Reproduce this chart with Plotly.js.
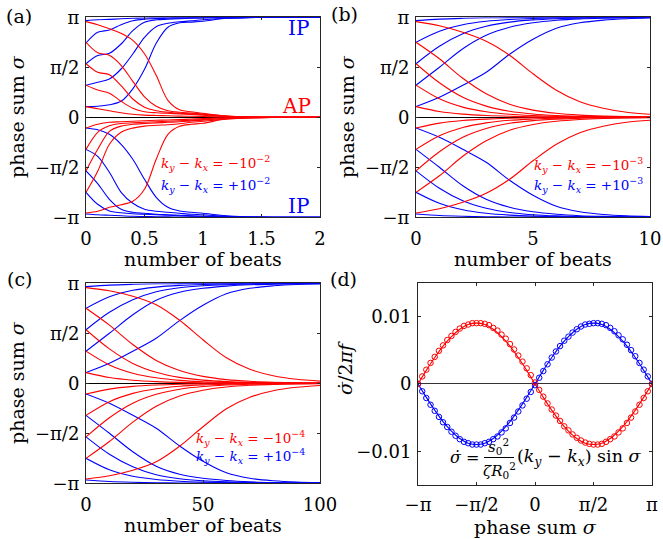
<!DOCTYPE html>
<html><head><meta charset="utf-8">
<script src="https://cdn.plot.ly/plotly-3.0.1.min.js"></script>
<style>body{margin:0;padding:0;background:#fff}#chart{width:663px;height:539px}</style>
</head><body><div id="chart"></div>
<script>
// ---------- panel (a): ky-kx = ±1e-2, phase sum in units of pi ----------
const beatsA = [0, 0.1, 0.2, 0.3, 0.4, 0.5, 0.6, 0.7, 0.8, 0.9, 1.0, 1.2, 1.4, 1.6, 2.0];
const blueA1 = [0.967, 0.975, 0.979, 0.985, 0.99, 0.993, 0.995, 0.996, 0.997, 0.998, 0.999, 1, 1, 1, 1];
const blueA2 = [0.743, 0.85, 0.873, 0.926, 0.966, 0.982, 0.988, 0.99, 0.992, 0.994, 0.996, 0.999, 1, 1, 1];
const blueA3 = [0.536, 0.617, 0.64, 0.733, 0.866, 0.95, 0.975, 0.98, 0.985, 0.99, 0.993, 0.998, 1, 1, 1];
const blueA4 = [0.321, 0.35, 0.383, 0.483, 0.633, 0.8, 0.906, 0.94, 0.955, 0.965, 0.975, 0.99, 0.997, 1, 1];
const blueA5 = [0.107, 0.11, 0.125, 0.16, 0.285, 0.48, 0.74, 0.9, 0.945, 0.952, 0.96, 0.99, 0.998, 1, 1];
const blueA6 = [-0.107, -0.125, -0.17, -0.27, -0.42, -0.62, -0.8, -0.9, -0.937, -0.95, -0.96, -0.985, -0.995, -1, -1];
const blueA7 = [-0.321, -0.39, -0.55, -0.75, -0.86, -0.92, -0.94, -0.95, -0.96, -0.97, -0.975, -0.99, -0.997, -1, -1];
const blueA8 = [-0.536, -0.663, -0.82, -0.92, -0.95, -0.96, -0.97, -0.975, -0.98, -0.985, -0.99, -0.995, -1, -1, -1];
const blueA9 = [-0.75, -0.87, -0.937, -0.955, -0.965, -0.97, -0.975, -0.98, -0.985, -0.988, -0.99, -0.995, -1, -1, -1];
const blueA10 = [-0.967, -0.975, -0.98, -0.985, -0.99, -0.992, -0.995, -0.996, -0.997, -0.998, -0.999, -1, -1, -1, -1];
const redA1 = [0.957, 0.925, 0.885, 0.84, 0.77, 0.635, 0.42, 0.17, 0.075, 0.055, 0.04, 0.012, 0.003, 0.001, 0];
const redA2 = [0.75, 0.645, 0.62, 0.52, 0.36, 0.205, 0.11, 0.066, 0.05, 0.042, 0.032, 0.012, 0.004, 0.001, 0];
const redA3 = [0.536, 0.45, 0.426, 0.316, 0.183, 0.1, 0.066, 0.05, 0.04, 0.034, 0.026, 0.01, 0.003, 0, 0];
const redA4 = [0.321, 0.273, 0.24, 0.16, 0.09, 0.056, 0.045, 0.04, 0.034, 0.028, 0.02, 0.008, 0.002, 0, 0];
const redA5 = [0.107, 0.085, 0.065, 0.045, 0.03, 0.022, 0.018, 0.015, 0.012, 0.01, 0.008, 0.003, 0.001, 0, 0];
const redA6 = [-0.107, -0.07, -0.05, -0.045, -0.04, -0.035, -0.03, -0.027, -0.023, -0.018, -0.013, -0.005, -0.002, 0, 0];
const redA7 = [-0.321, -0.15, -0.085, -0.062, -0.055, -0.05, -0.045, -0.04, -0.035, -0.03, -0.022, -0.01, -0.004, -0.001, 0];
const redA8 = [-0.536, -0.32, -0.14, -0.088, -0.07, -0.062, -0.056, -0.05, -0.045, -0.036, -0.028, -0.012, -0.004, -0.001, 0];
const redA9 = [-0.75, -0.54, -0.27, -0.15, -0.108, -0.088, -0.08, -0.074, -0.065, -0.05, -0.04, -0.018, -0.006, -0.002, 0];
const redA10 = [-0.957, -0.94, -0.9, -0.875, -0.84, -0.72, -0.42, -0.17, -0.09, -0.07, -0.06, -0.015, -0.004, -0.001, 0];

// ---------- panel (b): ky-kx = ±1e-3 ----------
const beatsB = [0, 1, 2, 3, 4, 5, 6, 7, 8, 9, 10];
const blueB1 = [0.967, 0.982, 0.99, 0.995, 0.997, 0.998, 0.999, 1, 1, 1, 1];
const blueB2 = [0.75, 0.86, 0.925, 0.96, 0.978, 0.988, 0.993, 0.996, 0.998, 0.999, 1];
const blueB3 = [0.536, 0.71, 0.835, 0.91, 0.952, 0.974, 0.986, 0.993, 0.996, 0.998, 0.999];
const blueB4 = [0.321, 0.5, 0.685, 0.82, 0.9, 0.945, 0.97, 0.984, 0.991, 0.995, 0.998];
const blueB5 = [0.107, 0.2, 0.32, 0.45, 0.63, 0.78, 0.89, 0.945, 0.972, 0.986, 0.993];
const blueB6 = [-0.107, -0.2, -0.32, -0.45, -0.63, -0.78, -0.89, -0.945, -0.972, -0.986, -0.993];
const blueB7 = [-0.321, -0.5, -0.685, -0.82, -0.9, -0.945, -0.97, -0.984, -0.991, -0.995, -0.998];
const blueB8 = [-0.536, -0.71, -0.835, -0.91, -0.952, -0.974, -0.986, -0.993, -0.996, -0.998, -0.999];
const blueB9 = [-0.75, -0.86, -0.925, -0.96, -0.978, -0.988, -0.993, -0.996, -0.998, -0.999, -1];
const blueB10 = [-0.967, -0.982, -0.99, -0.995, -0.997, -0.998, -0.999, -1, -1, -1, -1];
const redB1 = [0.957, 0.915, 0.85, 0.76, 0.62, 0.435, 0.27, 0.155, 0.09, 0.05, 0.03];
const redB2 = [0.75, 0.585, 0.39, 0.235, 0.13, 0.072, 0.04, 0.022, 0.012, 0.007, 0.004];
const redB3 = [0.536, 0.345, 0.2, 0.112, 0.06, 0.033, 0.018, 0.01, 0.005, 0.003, 0.002];
const redB4 = [0.321, 0.185, 0.102, 0.056, 0.03, 0.017, 0.009, 0.005, 0.003, 0.002, 0.001];
const redB5 = [0.107, 0.058, 0.032, 0.018, 0.01, 0.005, 0.003, 0.002, 0.001, 0, 0];
const redB6 = [-0.107, -0.058, -0.032, -0.018, -0.01, -0.005, -0.003, -0.002, -0.001, 0, 0];
const redB7 = [-0.321, -0.185, -0.102, -0.056, -0.03, -0.017, -0.009, -0.005, -0.003, -0.002, -0.001];
const redB8 = [-0.536, -0.345, -0.2, -0.112, -0.06, -0.033, -0.018, -0.01, -0.005, -0.003, -0.002];
const redB9 = [-0.75, -0.585, -0.39, -0.235, -0.13, -0.072, -0.04, -0.022, -0.012, -0.007, -0.004];
const redB10 = [-0.957, -0.915, -0.85, -0.76, -0.62, -0.435, -0.27, -0.155, -0.09, -0.05, -0.03];

// ---------- panel (c): ky-kx = ±1e-4 ----------
const beatsC = [0, 10, 20, 30, 40, 50, 60, 70, 80, 90, 100];
const blueC1 = [0.967, 0.982, 0.99, 0.995, 0.997, 0.998, 0.999, 1, 1, 1, 1];
const blueC2 = [0.75, 0.865, 0.93, 0.962, 0.979, 0.988, 0.993, 0.996, 0.998, 0.999, 1];
const blueC3 = [0.536, 0.71, 0.835, 0.915, 0.955, 0.975, 0.986, 0.993, 0.996, 0.998, 0.999];
const blueC4 = [0.321, 0.5, 0.685, 0.83, 0.91, 0.95, 0.972, 0.985, 0.992, 0.996, 0.998];
const blueC5 = [0.107, 0.2, 0.32, 0.45, 0.627, 0.78, 0.895, 0.95, 0.975, 0.988, 0.993];
const blueC6 = [-0.107, -0.2, -0.32, -0.45, -0.627, -0.78, -0.895, -0.95, -0.975, -0.988, -0.993];
const blueC7 = [-0.321, -0.5, -0.685, -0.83, -0.91, -0.95, -0.972, -0.985, -0.992, -0.996, -0.998];
const blueC8 = [-0.536, -0.71, -0.835, -0.915, -0.955, -0.975, -0.986, -0.993, -0.996, -0.998, -0.999];
const blueC9 = [-0.75, -0.865, -0.93, -0.962, -0.979, -0.988, -0.993, -0.996, -0.998, -0.999, -1];
const blueC10 = [-0.967, -0.982, -0.99, -0.995, -0.997, -0.998, -0.999, -1, -1, -1, -1];
const redC1 = [0.957, 0.925, 0.87, 0.785, 0.63, 0.435, 0.255, 0.14, 0.075, 0.04, 0.022];
const redC2 = [0.75, 0.582, 0.388, 0.229, 0.127, 0.069, 0.037, 0.02, 0.011, 0.006, 0.003];
const redC3 = [0.536, 0.344, 0.199, 0.11, 0.059, 0.032, 0.017, 0.009, 0.005, 0.003, 0.001];
const redC4 = [0.321, 0.184, 0.101, 0.055, 0.029, 0.016, 0.009, 0.005, 0.003, 0.001, 0.001];
const redC5 = [0.107, 0.058, 0.031, 0.017, 0.009, 0.005, 0.003, 0.001, 0.001, 0, 0];
const redC6 = [-0.107, -0.058, -0.031, -0.017, -0.009, -0.005, -0.003, -0.001, -0.001, 0, 0];
const redC7 = [-0.321, -0.184, -0.101, -0.055, -0.029, -0.016, -0.009, -0.005, -0.003, -0.001, -0.001];
const redC8 = [-0.536, -0.344, -0.199, -0.11, -0.059, -0.032, -0.017, -0.009, -0.005, -0.003, -0.001];
const redC9 = [-0.75, -0.582, -0.388, -0.229, -0.127, -0.069, -0.037, -0.02, -0.011, -0.006, -0.003];
const redC10 = [-0.957, -0.925, -0.87, -0.785, -0.63, -0.435, -0.255, -0.14, -0.075, -0.04, -0.022];

// ---------- panel (d): sigma-dot / 2 pi f vs phase sum (units of pi) ----------
const sigmaMarks = [-1, -0.964, -0.929, -0.893, -0.857, -0.821, -0.786, -0.75, -0.714, -0.679, -0.643, -0.607, -0.571, -0.536, -0.5,
  -0.464, -0.429, -0.393, -0.357, -0.321, -0.286, -0.25, -0.214, -0.179, -0.143, -0.107, -0.071, -0.036, 0,
  0.036, 0.071, 0.107, 0.143, 0.179, 0.214, 0.25, 0.286, 0.321, 0.357, 0.393, 0.429, 0.464, 0.5,
  0.536, 0.571, 0.607, 0.643, 0.679, 0.714, 0.75, 0.786, 0.821, 0.857, 0.893, 0.929, 0.964, 1];
const redMarks = [0, 0.0011, 0.0021, 0.0031, 0.0040, 0.0049, 0.0057, 0.0065, 0.0071, 0.0077, 0.0082, 0.0086, 0.0088, 0.0090, 0.0090,
  0.0090, 0.0089, 0.0087, 0.0083, 0.0079, 0.0073, 0.0067, 0.0059, 0.0051, 0.0042, 0.0033, 0.0023, 0.0013, 0.0002,
  -0.0009, -0.0019, -0.0029, -0.0038, -0.0047, -0.0055, -0.0063, -0.0069, -0.0075, -0.0080, -0.0084, -0.0087, -0.0089, -0.0090,
  -0.0090, -0.0089, -0.0086, -0.0082, -0.0078, -0.0072, -0.0066, -0.0058, -0.0050, -0.0041, -0.0031, -0.0021, -0.0011, 0];
const blueMarks = [0, -0.0011, -0.0021, -0.0031, -0.0040, -0.0049, -0.0057, -0.0064, -0.0071, -0.0077, -0.0082, -0.0086, -0.0088, -0.0090, -0.0090,
  -0.0090, -0.0088, -0.0086, -0.0082, -0.0078, -0.0072, -0.0066, -0.0058, -0.0050, -0.0041, -0.0032, -0.0022, -0.0012, -0.0002,
  0.0009, 0.0019, 0.0029, 0.0039, 0.0048, 0.0056, 0.0064, 0.0070, 0.0076, 0.0081, 0.0085, 0.0088, 0.0089, 0.0090,
  0.0090, 0.0089, 0.0087, 0.0083, 0.0078, 0.0072, 0.0066, 0.0058, 0.0050, 0.0041, 0.0031, 0.0021, 0.0011, 0];
const sigmaLine = [-1, -0.929, -0.857, -0.786, -0.714, -0.643, -0.571, -0.5, -0.429, -0.357, -0.286, -0.214, -0.143, -0.071, 0,
  0.071, 0.143, 0.214, 0.286, 0.357, 0.429, 0.5, 0.571, 0.643, 0.714, 0.786, 0.857, 0.929, 1];
const redLine = [0, 0.0020, 0.0039, 0.0056, 0.0070, 0.0081, 0.0088, 0.0090, 0.0088, 0.0081, 0.0070, 0.0056, 0.0039, 0.0020, 0,
  -0.0020, -0.0039, -0.0056, -0.0070, -0.0081, -0.0088, -0.0090, -0.0088, -0.0081, -0.0070, -0.0056, -0.0039, -0.0020, 0];
const blueLine = [0, -0.0020, -0.0039, -0.0056, -0.0070, -0.0081, -0.0088, -0.0090, -0.0088, -0.0081, -0.0070, -0.0056, -0.0039, -0.0020, 0,
  0.0020, 0.0039, 0.0056, 0.0070, 0.0081, 0.0088, 0.0090, 0.0088, 0.0081, 0.0070, 0.0056, 0.0039, 0.0020, 0];

// tick labels
const piTickVals = [-1, -0.5, 0, 0.5, 1];
const piTickText = ['−π', '−π/2', '0', 'π/2', 'π'];
const beatTicksA = [0, 0.5, 1, 1.5, 2];
const beatTicksB = [0, 5, 10];
const beatTicksC = [0, 50, 100];
const rateTickVals = [-0.01, 0, 0.01];
const rateTickText = ['−0.01', '0', '0.01'];

// ---------- build ----------
const W = 663, H = 539;
const px = x => x / W, py = y => 1 - y / H;
const RED = '#ff0000', BLUE = '#0000ff';
const FONT = 'DejaVu Serif';
const traces = [];
function addSet(xs, list, color, xa, ya) {
  list.forEach(ys => traces.push({x: xs, y: ys, xaxis: xa, yaxis: ya, mode: 'lines',
    line: {color: color, width: 1.1, shape: 'spline', smoothing: 0.9}, hoverinfo: 'skip'}));
}
addSet(beatsA, [blueA1, blueA2, blueA3, blueA4, blueA5, blueA6, blueA7, blueA8, blueA9, blueA10], BLUE, 'x', 'y');
addSet(beatsA, [redA1, redA2, redA3, redA4, redA5, redA6, redA7, redA8, redA9, redA10], RED, 'x', 'y');
addSet(beatsB, [blueB1, blueB2, blueB3, blueB4, blueB5, blueB6, blueB7, blueB8, blueB9, blueB10], BLUE, 'x2', 'y2');
addSet(beatsB, [redB1, redB2, redB3, redB4, redB5, redB6, redB7, redB8, redB9, redB10], RED, 'x2', 'y2');
addSet(beatsC, [blueC1, blueC2, blueC3, blueC4, blueC5, blueC6, blueC7, blueC8, blueC9, blueC10], BLUE, 'x3', 'y3');
addSet(beatsC, [redC1, redC2, redC3, redC4, redC5, redC6, redC7, redC8, redC9, redC10], RED, 'x3', 'y3');
traces.push({x: sigmaLine, y: blueLine, xaxis: 'x4', yaxis: 'y4', mode: 'lines', line: {color: BLUE, width: 1.1, shape: 'spline'}, hoverinfo: 'skip'});
traces.push({x: sigmaLine, y: redLine, xaxis: 'x4', yaxis: 'y4', mode: 'lines', line: {color: RED, width: 1.1, shape: 'spline'}, hoverinfo: 'skip'});
traces.push({x: sigmaMarks, y: blueMarks, xaxis: 'x4', yaxis: 'y4', mode: 'markers', marker: {symbol: 'circle-open', size: 5.5, color: BLUE, line: {width: 1}}, hoverinfo: 'skip'});
traces.push({x: sigmaMarks, y: redMarks, xaxis: 'x4', yaxis: 'y4', mode: 'markers', marker: {symbol: 'circle-open', size: 5.5, color: RED, line: {width: 1}}, hoverinfo: 'skip'});

function ax(extra) {
  return Object.assign({showline: true, linecolor: '#262626', linewidth: 1, mirror: 'ticks', ticks: 'inside', ticklen: 3,
    tickcolor: '#262626', showgrid: false, zeroline: false, automargin: false, fixedrange: true,
    tickfont: {family: FONT, size: 18, color: '#000'}}, extra);
}
const xAx = (extra) => ax(Object.assign({ticklabelstandoff: 5}, extra));
const yPi = (dom) => ax({domain: dom, range: [-1, 1], tickmode: 'array', tickvals: piTickVals, ticktext: piTickText,
  zeroline: true, zerolinecolor: '#000', zerolinewidth: 1.2, ticklabelstandoff: 2});
const domAx = [px(86), px(320)], domBx = [px(416), px(650)];
const domTopY = [py(217.3), py(17.3)], domBotY = [py(483.3), py(283.3)];

function ann(text, x, y, o) {
  return Object.assign({text: text, x: px(x), y: py(y), xref: 'paper', yref: 'paper', showarrow: false,
    xanchor: 'center', yanchor: 'middle', font: {family: FONT, size: 19, color: '#000'}}, o || {});
}
const kText = (s, e) => '<i>k</i><sub><i>y</i></sub> − <i>k</i><sub><i>x</i></sub> = ' + s + '10<sup>−' + e + '</sup>';
const annotations = [
  ann('(a)', 19, 16), ann('(b)', 344, 14), ann('(c)', 19, 279), ann('(d)', 343, 279),
  ann('number of beats', 203, 259), ann('number of beats', 533, 259), ann('number of beats', 203, 525),
  ann('phase sum <i>σ</i>', 535, 527),
  ann('phase sum <i>σ</i>', 17, 117, {textangle: -90}), ann('phase sum <i>σ</i>', 347, 117, {textangle: -90}),
  ann('phase sum <i>σ</i>', 17, 383, {textangle: -90}),
  ann('<i>σ̇</i>/2<i>πf</i>', 345, 368, {textangle: -90}),
  ann('IP', 311, 28, {xanchor: 'right', font: {family: FONT, size: 20, color: BLUE}}),
  ann('AP', 313, 106, {xanchor: 'right', font: {family: FONT, size: 20, color: RED}}),
  ann('IP', 311, 206, {xanchor: 'right', font: {family: FONT, size: 20, color: BLUE}}),
  ann(kText('−', 2), 272, 163, {xanchor: 'right', font: {family: FONT, size: 13.5, color: RED}}),
  ann(kText('+', 2), 272, 185, {xanchor: 'right', font: {family: FONT, size: 13.5, color: BLUE}}),
  ann(kText('−', 3), 645, 165, {xanchor: 'right', font: {family: FONT, size: 13.5, color: RED}}),
  ann(kText('+', 3), 645, 185, {xanchor: 'right', font: {family: FONT, size: 13.5, color: BLUE}}),
  ann(kText('−', 4), 307, 438, {xanchor: 'right', font: {family: FONT, size: 13.5, color: RED}}),
  ann(kText('+', 4), 307, 456, {xanchor: 'right', font: {family: FONT, size: 13.5, color: BLUE}}),
  ann('<i>σ̇</i> =', 481, 457, {xanchor: 'right', font: {family: FONT, size: 16, color: '#000'}}),
  ann('<i>s</i><sub>0</sub><sup>2</sup>', 498, 446, {font: {family: FONT, size: 15, color: '#000'}}),
  ann('<i>ζR</i><sub>0</sub><sup>2</sup>', 499, 470, {font: {family: FONT, size: 15, color: '#000'}}),
  ann('(<i>k</i><sub><i>y</i></sub> − <i>k</i><sub><i>x</i></sub>) sin <i>σ</i>', 515, 457, {xanchor: 'left', font: {family: FONT, size: 17.5, color: '#000'}})
];

const layout = {
  width: W, height: H, margin: {l: 0, r: 0, t: 0, b: 0}, showlegend: false,
  paper_bgcolor: '#fff', plot_bgcolor: '#fff', font: {family: FONT},
  xaxis: xAx({domain: domAx, range: [0, 2], tickmode: 'array', tickvals: beatTicksA, ticktext: ['0', '0.5', '1', '1.5', '2'], anchor: 'y'}),
  yaxis: Object.assign(yPi(domTopY), {anchor: 'x'}),
  xaxis2: xAx({domain: domBx, range: [0, 10], tickmode: 'array', tickvals: beatTicksB, ticktext: ['0', '5', '10'], anchor: 'y2'}),
  yaxis2: Object.assign(yPi(domTopY), {anchor: 'x2'}),
  xaxis3: xAx({domain: domAx, range: [0, 100], tickmode: 'array', tickvals: beatTicksC, ticktext: ['0', '50', '100'], anchor: 'y3'}),
  yaxis3: Object.assign(yPi(domBotY), {anchor: 'x3'}),
  xaxis4: xAx({domain: [px(418), px(652)], range: [-1, 1], tickmode: 'array', tickvals: piTickVals, ticktext: piTickText, anchor: 'y4', ticklabelstandoff: 3}),
  yaxis4: ax({domain: [py(485), py(282.7)], range: [-0.015, 0.015], tickmode: 'array', tickvals: rateTickVals, ticktext: rateTickText,
    zeroline: true, zerolinecolor: '#333', zerolinewidth: 1.2, anchor: 'x4', ticklabelstandoff: 2}),
  annotations: annotations,
  shapes: [{type: 'line', xref: 'paper', yref: 'paper', x0: px(484), x1: px(514), y0: py(457.5), y1: py(457.5), line: {color: '#000', width: 1}}]
};
Plotly.newPlot('chart', traces, layout, {staticPlot: true, displayModeBar: false});
</script></body></html>
